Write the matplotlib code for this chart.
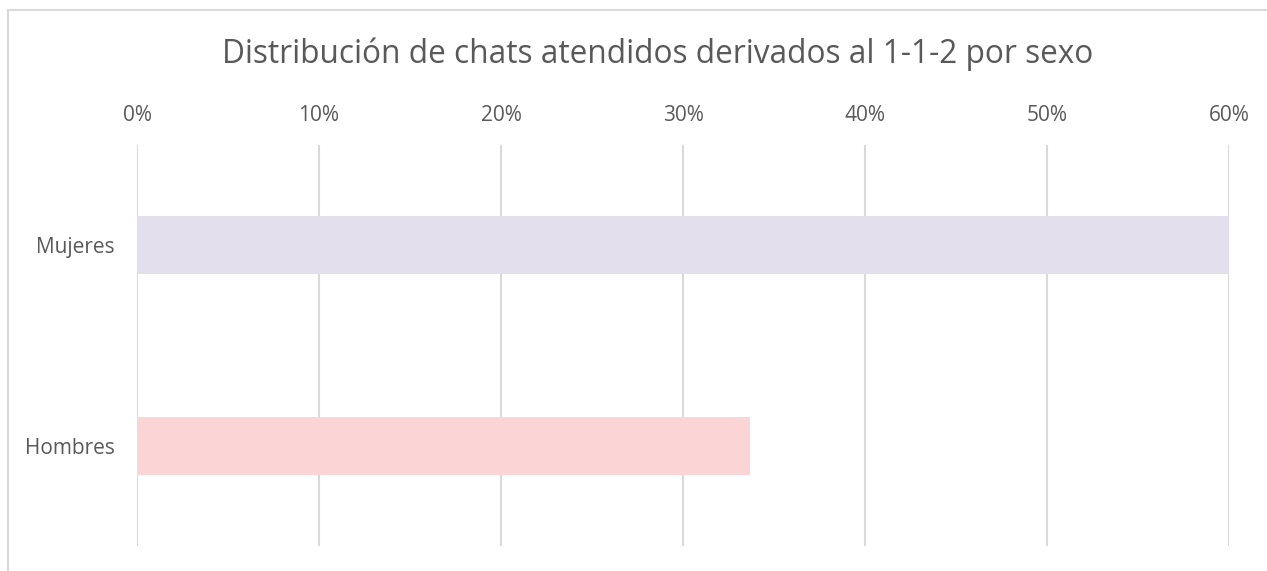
import matplotlib.pyplot as plt
from matplotlib.patches import Rectangle
from matplotlib.ticker import FuncFormatter

categories = ['Hombres', 'Mujeres']
values = [33.7, 60.15]
colors = ['#fbd5d5', '#e4dfec']
ticks = [0, 10, 20, 30, 40, 50, 60]

plt.rcParams['font.family'] = ['Open Sans', 'DejaVu Sans']
text_color = '#595959'

fig = plt.figure(figsize=(12.67, 5.71), dpi=100)
ax = fig.add_axes([137 / 1267, 1 - 546 / 571, (1229 - 137) / 1267, (546 - 145) / 571])

ax.barh(categories, values, height=0.29, color=colors, zorder=2)
ax.set_xlim(0, 60)
ax.set_ylim(-0.5, 1.5)
ax.set_xticks(ticks)
ax.xaxis.set_major_formatter(FuncFormatter(lambda v, p: f'{v:.0f}%'))
ax.xaxis.tick_top()
ax.tick_params(axis='x', length=0, pad=14, labelsize=15, labelcolor=text_color)
ax.tick_params(axis='y', length=0, pad=16, labelsize=15, labelcolor=text_color)
ax.grid(axis='x', color='#d9d9d9', linewidth=1.5, zorder=0)
for s in ax.spines.values():
    s.set_visible(False)

fig.text(0.5 + 24 / 1267, 1 - 54 / 571, 'Distribución de chats atendidos derivados al 1-1-2 por sexo',
         ha='center', va='center', fontsize=22.8, color=text_color)

fig.patches.append(Rectangle((8 / 1267, -0.1), 1.2, 1 - 10 / 571 + 0.1,
                             transform=fig.transFigure, fill=False,
                             edgecolor='#d9d9d9', linewidth=1.5))

fig.savefig('out.png', dpi=100)
